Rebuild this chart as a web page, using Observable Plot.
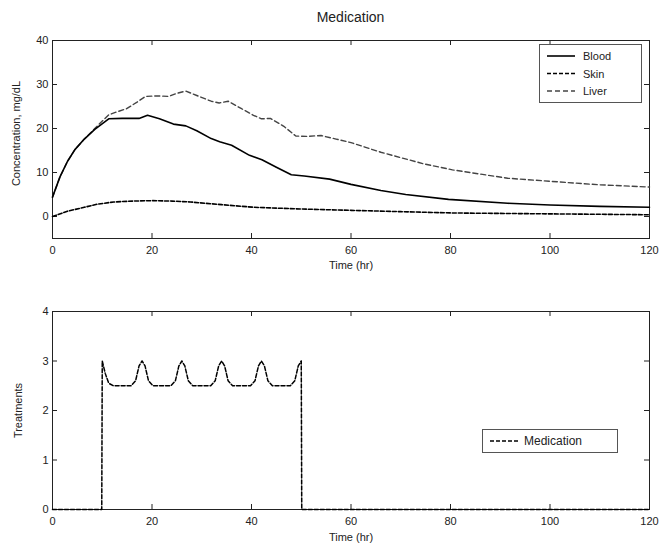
<!DOCTYPE html>
<html>
<head>
<meta charset="utf-8">
<script src="https://cdn.jsdelivr.net/npm/d3@7"></script>
<script src="https://cdn.jsdelivr.net/npm/@observablehq/plot@0.6"></script>
<style>
  body { margin: 0; background: #fff; }
  #wrap { position: relative; width: 663px; height: 552px; font-family: "Liberation Sans", Arial, sans-serif; color: #222; }
  #title { position: absolute; top: 8px; left: 52px; width: 597px; text-align: center; font-size: 14px; line-height: 18px; z-index: 2; }
  .plot { position: absolute; left: 0; z-index: 1; }
  .legend { position: absolute; z-index: 3; }
</style>
</head>
<body>
<div id="wrap">
  <div id="title">Medication</div>
  <div id="topPlot" class="plot" style="top:30px"></div>
  <div id="botPlot" class="plot" style="top:280px"></div>
  <svg class="legend" style="left:539px;top:44px" width="103" height="59">
    <rect x="0.5" y="0.5" width="102" height="58" fill="#fff" stroke="#555"/>
    <line x1="8" x2="36" y1="12" y2="12" stroke="#000" stroke-width="1.6"/>
    <line x1="8" x2="36" y1="29.5" y2="29.5" stroke="#000" stroke-width="1.6" stroke-dasharray="4,2"/>
    <line x1="8" x2="36" y1="47" y2="47" stroke="#444" stroke-width="1.4" stroke-dasharray="5,3"/>
    <g font-family="Liberation Sans, Arial, sans-serif" font-size="11" fill="#222">
      <text x="44" y="16">Blood</text>
      <text x="44" y="33.5">Skin</text>
      <text x="44" y="51">Liver</text>
    </g>
  </svg>
  <svg class="legend" style="left:482px;top:429px" width="136" height="24">
    <rect x="0.5" y="0.5" width="135" height="23" fill="#fff" stroke="#555"/>
    <line x1="8" x2="36" y1="12" y2="12" stroke="#000" stroke-width="1.5" stroke-dasharray="4,2"/>
    <text x="42" y="16" font-family="Liberation Sans, Arial, sans-serif" font-size="12" fill="#222">Medication</text>
  </svg>
</div>
<script>
// ---- data ----
const xTicks = [0, 20, 40, 60, 80, 100, 120];
const concTicks = [0, 10, 20, 30, 40];
const treatTicks = [0, 1, 2, 3, 4];

const bloodT = [0, 1.5, 3, 4.5, 6.4, 8.5, 11.3, 14, 17.4, 19.1, 21.5, 24.3, 26.8, 29, 31.9, 33.6, 36, 39.6, 42.1, 45, 48, 50.6, 55.7, 60, 66, 71, 79.6, 91.5, 100, 110, 120];
const bloodV = [4.4, 9, 12.5, 15.2, 17.6, 19.8, 22.2, 22.3, 22.3, 23.0, 22.2, 21, 20.6, 19.5, 17.7, 17, 16.2, 13.9, 12.9, 11.2, 9.5, 9.2, 8.5, 7.3, 5.9, 5.0, 3.9, 3.0, 2.6, 2.3, 2.1];

const skinT = [0, 3, 6.4, 9, 12.3, 16, 20, 24, 27.7, 34, 40.4, 50, 60, 70, 80.4, 90, 100, 110, 120];
const skinV = [0, 1.2, 2.1, 2.8, 3.3, 3.5, 3.6, 3.5, 3.3, 2.7, 2.1, 1.7, 1.4, 1.1, 0.8, 0.7, 0.6, 0.5, 0.4];

const liverT = [0, 1.5, 3, 4.5, 6.4, 8.5, 11.3, 13, 14.9, 17, 18.7, 21, 23.4, 25, 26.8, 29, 31.9, 33.5, 35.3, 38, 40.4, 42, 43.8, 46.5, 48.9, 51, 54, 57, 60, 66, 74.5, 80.4, 91.5, 100, 110, 120];
const liverV = [4.4, 9, 12.5, 15.2, 17.6, 20, 23.1, 23.8, 24.5, 26, 27.3, 27.4, 27.3, 28, 28.5, 27.5, 26.2, 25.8, 26.2, 24.5, 23, 22.2, 22.3, 20.5, 18.3, 18.2, 18.4, 17.6, 16.8, 14.6, 12, 10.6, 8.7, 8.0, 7.2, 6.7];

const medT = [0, 9.9, 10, 10.6, 11.3, 12.2, 15.8, 16.7, 17.4, 18, 18.6, 19.3, 20.2, 23.8, 24.7, 25.4, 26, 26.6, 27.3, 28.2, 31.8, 32.7, 33.4, 34, 34.6, 35.3, 36.2, 39.8, 40.7, 41.4, 42, 42.6, 43.3, 44.2, 47.8, 48.7, 49.4, 50, 50.1, 120];
const medV = [0, 0, 3, 2.75, 2.55, 2.5, 2.5, 2.6, 2.9, 3, 2.9, 2.6, 2.5, 2.5, 2.6, 2.9, 3, 2.9, 2.6, 2.5, 2.5, 2.6, 2.9, 3, 2.9, 2.6, 2.5, 2.5, 2.6, 2.9, 3, 2.9, 2.6, 2.5, 2.5, 2.6, 2.9, 3, 0, 0];

const zip = (T, V) => T.map((t, i) => ({t, v: V[i]}));
const blood = zip(bloodT, bloodV);
const skin = zip(skinT, skinV);
const liver = zip(liverT, liverV);
const med = zip(medT, medV);

const ink = "#222";
const W = 663, ML = 52, MR = 14;
const fw = W - ML - MR; // frame width
const TL = 5;           // inward tick length

const axes = (yTicks, fh) => [
  Plot.frame({stroke: ink, strokeWidth: 1}),
  // inward ticks on all four sides (MATLAB style)
  Plot.ruleX(xTicks, {x: d => d, insetTop: fh - TL, stroke: ink}),
  Plot.ruleX(xTicks, {x: d => d, insetBottom: fh - TL, stroke: ink}),
  Plot.ruleY(yTicks, {y: d => d, insetRight: fw - TL, stroke: ink}),
  Plot.ruleY(yTicks, {y: d => d, insetLeft: fw - TL, stroke: ink}),
  // tick labels
  Plot.axisX(xTicks, {anchor: "bottom", tickSize: 0, tickPadding: 8, label: null, fill: ink, tickFormat: d => String(d)}),
  Plot.axisY(yTicks, {anchor: "left", tickSize: 0, tickPadding: 4, label: null, fill: ink, tickFormat: d => String(d)})
];

const common = {
  width: W,
  marginLeft: ML,
  marginRight: MR,
  style: {fontFamily: "Liberation Sans, Arial, sans-serif", fontSize: "11px", color: ink, background: "#fff"},
  x: {domain: [0, 120]}
};

const topChart = Plot.plot({
  ...common,
  height: 250,
  marginTop: 10,
  marginBottom: 42,
  y: {domain: [-5, 40]},
  marks: [
    ...axes(concTicks, 198),
    Plot.line(liver, {x: "t", y: "v", stroke: "#444", strokeWidth: 1.4, strokeDasharray: "5,3"}),
    Plot.line(skin, {x: "t", y: "v", stroke: "#000", strokeWidth: 1.6, strokeDasharray: "4,2"}),
    Plot.line(blood, {x: "t", y: "v", stroke: "#000", strokeWidth: 1.6}),
    Plot.text(["Time (hr)"], {frameAnchor: "bottom", dy: 30, fill: ink, fontSize: 11}),
    Plot.text(["Concentration, mg/dL"], {frameAnchor: "left", textAnchor: "middle", dx: -36, dy: -6, rotate: -90, fill: ink, fontSize: 11})
  ]
});
document.getElementById("topPlot").append(topChart);

const botChart = Plot.plot({
  ...common,
  height: 272,
  marginTop: 31,
  marginBottom: 43,
  y: {domain: [0, 4]},
  marks: [
    ...axes(treatTicks, 198),
    Plot.line(med, {x: "t", y: "v", stroke: "#000", strokeWidth: 1.5, strokeDasharray: "4,2"}),
    Plot.text(["Time (hr)"], {frameAnchor: "bottom", dy: 31, fill: ink, fontSize: 11}),
    Plot.text(["Treatments"], {frameAnchor: "left", textAnchor: "middle", dx: -34, rotate: -90, fill: ink, fontSize: 11})
  ]
});
document.getElementById("botPlot").append(botChart);
</script>
</body>
</html>
